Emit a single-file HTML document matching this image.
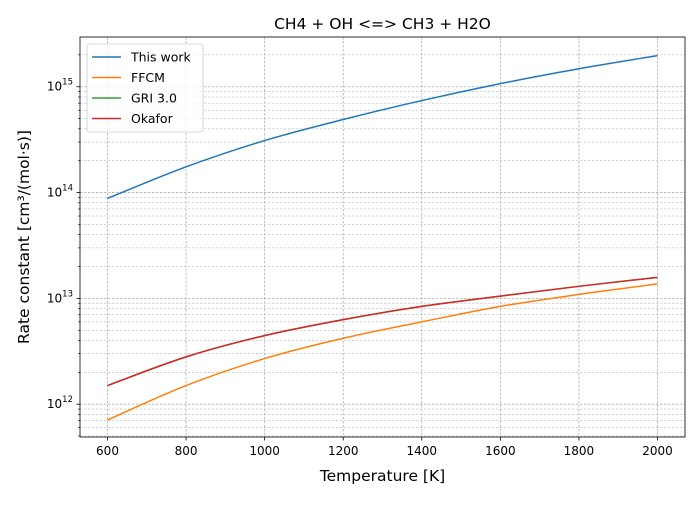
<!DOCTYPE html>
<html><head><meta charset="utf-8"><style>
body{margin:0;background:#fff;font-family:"Liberation Sans","DejaVu Sans",sans-serif}
</style></head><body>
<svg id="chart" width="700" height="500" xmlns="http://www.w3.org/2000/svg" font-family="DejaVu Sans, Liberation Sans, sans-serif"></svg>
<script>
const temps=[600,800,1000,1200,1400,1600,1800,2000];
const thisWork=[8.8e13,1.75e14,3.1e14,4.9e14,7.4e14,1.07e15,1.48e15,1.97e15];
const ffcm=[7.1e11,1.5e12,2.7e12,4.2e12,6.0e12,8.4e12,1.09e13,1.37e13];
const gri=[1.5e12,2.8e12,4.45e12,6.3e12,8.4e12,1.05e13,1.3e13,1.58e13];
const okafor=[1.5e12,2.8e12,4.45e12,6.3e12,8.4e12,1.05e13,1.3e13,1.58e13];
const xTicks=[600,800,1000,1200,1400,1600,1800,2000];
const yDecades=[12,13,14,15];
const seriesNames=["This work","FFCM","GRI 3.0","Okafor"];
const colors=["#1f77b4","#ff7f0e","#2ca02c","#d62728"];

const L=80,R=685,T=37,B=437;
const xMin=530,xMax=2070,yMin=11.69,yMax=15.47;
const sx=v=>L+(v-xMin)/(xMax-xMin)*(R-L);
const sy=v=>B-(Math.log10(v)-yMin)/(yMax-yMin)*(B-T);
const svg=document.getElementById('chart');
const NS="http://www.w3.org/2000/svg";
function mk(tag,attrs,parent){const e=document.createElementNS(NS,tag);for(const k in attrs)e.setAttribute(k,attrs[k]);(parent||svg).appendChild(e);return e;}

const grid=mk('g',{});


for(const d of [11,12,13,14,15]){for(let m=1;m<10;m++){const v=m*Math.pow(10,d);const y=sy(v);if(y<T||y>B)continue;
 mk('line',{x1:L,x2:R,y1:y,y2:y,stroke:'#b0b0b0','stroke-width':m==1?0.8:0.5,'stroke-dasharray':'2.5,1.5'},grid);
 mk('line',{x1:L,x2:L-(m==1?3.5:2),y1:y,y2:y,stroke:'#000','stroke-width':m==1?0.8:0.6});}}
for(const t of xTicks){const x=sx(t);
 mk('line',{x1:x,x2:x,y1:T,y2:B,stroke:'#b0b0b0','stroke-width':0.8,'stroke-dasharray':'2.5,1.5'},grid);
 mk('line',{x1:x,x2:x,y1:B,y2:B+3.5,stroke:'#000','stroke-width':0.8});
 const tx=mk('text',{x:x,y:B+18,'text-anchor':'middle','font-size':12});tx.textContent=t;
 
 }
for(const d of yDecades){const y=sy(Math.pow(10,d));
 const tx=mk('text',{x:L-7,y:y+4,'text-anchor':'end','font-size':12});tx.innerHTML='10<tspan dy="-6" font-size="8.5">'+d+'</tspan>';
 
 }

function path(vals){const p=temps.map((t,i)=>[sx(t),sy(vals[i])]);let d='M'+p[0][0]+','+p[0][1];
 for(let i=0;i<p.length-1;i++){const p0=p[Math.max(i-1,0)],p1=p[i],p2=p[i+1],p3=p[Math.min(i+2,p.length-1)];
 d+=' C'+(p1[0]+(p2[0]-p0[0])/6)+','+(p1[1]+(p2[1]-p0[1])/6)+' '+(p2[0]-(p3[0]-p1[0])/6)+','+(p2[1]-(p3[1]-p1[1])/6)+' '+p2[0]+','+p2[1];}return d;}
const all=[thisWork,ffcm,gri,okafor];
const names=['series-this-work','series-ffcm','series-gri-3','series-okafor'];
all.forEach((s,i)=>{const e=mk('path',{d:path(s),fill:'none',stroke:colors[i],'stroke-width':1.5});
 
 });

const frame=mk('rect',{x:L,y:T,width:R-L,height:B-T,fill:'none',stroke:'#000','stroke-width':0.8});



const title=mk('text',{x:(L+R)/2,y:29,'text-anchor':'middle','font-size':15.5});title.textContent='CH4 + OH <=> CH3 + H2O';


const xl=mk('text',{x:(L+R)/2,y:481,'text-anchor':'middle','font-size':15.5});xl.textContent='Temperature [K]';


const yl=mk('text',{x:0,y:0,'text-anchor':'middle','font-size':15.5,transform:'translate(29,'+(T+B)/2+') rotate(-90)'});yl.textContent='Rate constant [cm³/(mol·s)]';



const lg=mk('g',{});


mk('rect',{x:87,y:44,width:116,height:88,rx:3,fill:'#fff','fill-opacity':0.8,stroke:'#ccc','stroke-width':0.8},lg);
seriesNames.forEach((n,i)=>{const y=57+i*20.5;
 const ln=mk('line',{x1:92,x2:121,y1:y,y2:y,stroke:colors[i],'stroke-width':1.5},lg);
 
 
 const t=mk('text',{x:131,y:y+4.5,'font-size':12.5},lg);t.textContent=n;
 
 });
</script>
</body></html>
